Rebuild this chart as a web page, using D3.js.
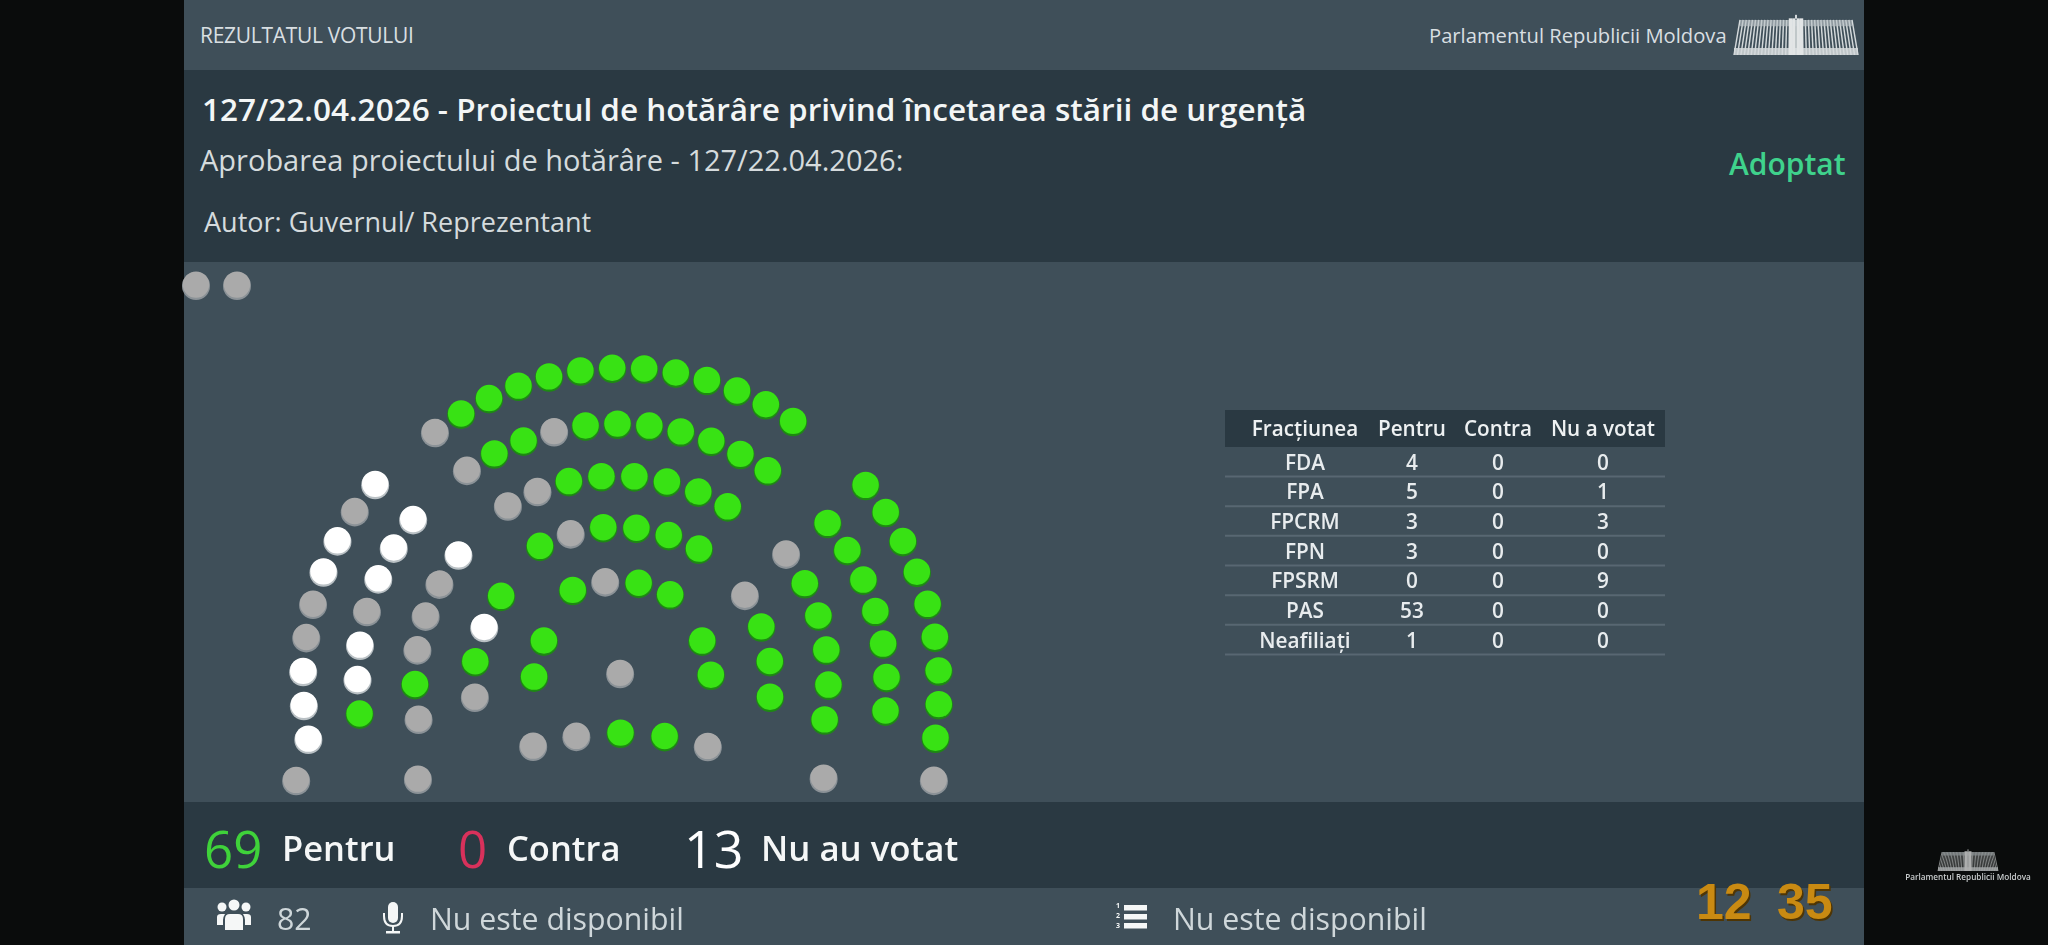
<!DOCTYPE html>
<html lang="ro">
<head>
<meta charset="utf-8">
<title>Rezultatul votului</title>
<script src="https://cdn.jsdelivr.net/npm/d3@7"></script>
<style>
html,body{margin:0;padding:0;background:#0a0c0c;overflow:hidden}
svg{display:block;filter:blur(.45px)}
text{font-family:"Open Sans",sans-serif}
</style>
</head>
<body>
<div id="chart"></div>
<script>
// ---------- DATA ----------
const factions   = ["FDA","FPA","FPCRM","FPN","FPSRM","PAS","Neafiliaţi"];
const votesFor   = [4,5,3,3,0,53,1];
const votesAgainst = [0,0,0,0,0,0,0];
const votesNone  = [0,1,3,0,9,0,0];
const tableHeads = ["Fracţiunea","Pentru","Contra","Nu a votat"];

// Seat status, row by row, clockwise. P = pentru, N = nu a votat, A = loc neocupat
const left1   = ["N","N","N","A","A","N","N","A","N"];
const left2   = ["P","N","N","A","N","N","N"];
const left3   = ["A","P","A","A","A","N"];
const left4   = ["A","P","N","P"];
const left5   = ["P","P"];
const centre1 = ["A","P","P","P","P","P","P","P","P","P","P","P","P"];
const centre2 = ["A","P","P","A","P","P","P","P","P","P","P"];
const centre3 = ["A","A","P","P","P","P","P","P"];
const centre4 = ["P","A","P","P","P","P"];
const centre5 = ["P","A","P","P"];
const centre6 = ["A","A","P","P","A"];
const right1  = ["P","P","P","P","P","P","P","P","P"];
const right2  = ["P","P","P","P","P","P","P"];
const right3  = ["A","P","P","P","P","P"];
const right4  = ["A","P","P","P"];
const right5  = ["P","P"];
const presiding = ["A"];
const footLeftOuter = ["A"], footLeftInner = ["A"], footRightInner = ["A"], footRightOuter = ["A"];
const reserve = ["A","A"];

// ---------- LAYOUT ----------
const W = 2048, H = 945;
const panel = {x:184, w:1680};
const colours = {light:"#3f4f59", dark:"#2a3942"};
const hubCentre = [617,691], hubTop = [621.5,671], hubLeft = [620,681], hubLeftOuter = [610,682],
      hubRight = [620,680], hubRightOuter = [618.6,689.6], hubRightSecond = [631.7,686.5],
      hubFeet = [620,680], hubFront = [620,1030];
// hub, radius, first angle, last angle (degrees from 12 o'clock, clockwise)
const seatRows = [
  [left1,hubLeftOuter,307,-100.7,-49.9],[left2,hubLeft,262.5,-97.2,-52],[left3,hubLeft,205,-100.7,-52],
  [left4,hubLeft,146,-96.3,-54.5],[left5,hubLeft,86,-87.3,-62.2],
  [centre1,hubTop,303,-38,34.5],[centre2,hubCentre,267,-34.2,34.4],[centre3,hubCentre,215,-30.5,31],
  [centre4,hubCentre,164,-28,30],[centre5,hubCentre,110,-23.7,28.9],[centre6,hubFront,297,-17,17.2],
  [presiding,hubCentre,18,10,10],
  [right1,hubRightOuter,320.6,50.4,98.7],[right2,hubRightSecond,255,50.2,95.5],[right3,hubRight,208.5,52.8,101],
  [right4,hubRight,151,55.8,96.5],[right5,hubRight,91,64.6,86.9],
  [footLeftOuter,hubFeet,339,-107.2,-107.2],[footLeftInner,hubFeet,225,-116.1,-116.1],
  [footRightInner,hubFeet,226,115.7,115.7],[footRightOuter,hubFeet,329.5,107.7,107.7]
];

const svg = d3.select("#chart").append("svg").attr("width",W).attr("height",H).attr("viewBox",[0,0,W,H]);

// ---------- PANEL BANDS ----------
const bands = [[0,70,"light"],[70,192,"dark"],[262,540,"light"],[802,86,"dark"],[888,57,"light"]];
svg.selectAll("rect.band").data(bands).join("rect").attr("class","band")
  .attr("x",panel.x).attr("width",panel.w).attr("y",d=>d[0]).attr("height",d=>d[1])
  .attr("fill",d=>colours[d[2]]);

const txt = (s,x,y,size,fill,weight=400,anchor="start",extra={})=>{
  const t = svg.append("text").text(s).attr("x",x).attr("y",y).attr("font-size",size)
    .attr("fill",fill).attr("font-weight",weight).attr("text-anchor",anchor);
  Object.entries(extra).forEach(([k,v])=>t.attr(k,v));
  return t;
};

// ---------- HEADER ----------
txt("REZULTATUL VOTULUI",200,43,21,"#d9dfe2",400,"start",{"letter-spacing":"-0.3"});
txt("Parlamentul Republicii Moldova",1429,43,20.2,"#d9dfe2",400);
txt("127/22.04.2026 - Proiectul de hotărâre privind încetarea stării de urgență",202,121,31.5,"#f3f6f6",600);
txt("Aprobarea proiectului de hotărâre - 127/22.04.2026:",200,171,29,"#d5dbdd",400);
txt("Autor: Guvernul/ Reprezentant",204,232,27,"#d5dbdd",400);
txt("Adoptat",1729,175,30,"#3fd28c",600);

// Parliament building emblem (decoration)
function emblem(cx,y,topHalf,botHalf,h,op){
  const g = svg.append("g").attr("opacity",op);
  const sTop = d3.scaleLinear().domain([-1,1]).range([cx-topHalf,cx+topHalf]);
  const sBot = d3.scaleLinear().domain([-1,1]).range([cx-botHalf,cx+botHalf]);
  d3.range(-1,1.0001,2/36).forEach(t=>{
    g.append("line").attr("x1",sTop(t)).attr("x2",sBot(t)).attr("y1",y+h*.1).attr("y2",y+h)
      .attr("stroke","#e6eaeb").attr("stroke-width",h/27);
  });
  g.append("path").attr("d",`M${cx-topHalf} ${y+h*.1}L${cx+topHalf} ${y+h*.1}L${cx+topHalf} ${y+h*.26}L${cx-topHalf} ${y+h*.26}Z`)
    .attr("fill","#c8cfd2").attr("opacity",.65);
  g.append("rect").attr("x",cx-botHalf).attr("width",2*botHalf).attr("y",y+h*.82).attr("height",h*.18)
    .attr("fill","#e6eaeb").attr("opacity",.85);
  [-.1,-.04,.04,.1].forEach(t=>g.append("rect").attr("x",sTop(t)-h/24).attr("width",h/12)
    .attr("y",y+h*.06).attr("height",h*.94).attr("fill","#f4f6f6"));
  g.append("rect").attr("x",cx-h/40).attr("width",h/20).attr("y",y-h*.03).attr("height",h*.1).attr("fill","#e6eaeb");
}
emblem(1796,16,56,62,39,.9);
emblem(1968,850,26,30,21,.7);
txt("Parlamentul Republicii Moldova",1968,880,8.2,"#c9cdce",600,"middle");

// ---------- HEMICYCLE ----------
const colour = d3.scaleOrdinal(["P","N","A"],["#38e214","#ffffff","#aaaaaa"]);
const edge   = d3.scaleOrdinal(["P","N","A"],["#1d8a12","#b9c0c4","#8b9297"]);
const seatR  = 14;
const seats = [];
seatRows.forEach(([votes,hub,radius,a0,a1])=>{
  const angle = d3.scaleLinear().domain([0,Math.max(1,votes.length-1)]).range([a0,a1]);
  votes.forEach((v,i)=>{
    const [x,y] = d3.pointRadial(angle(i)*Math.PI/180,radius);
    seats.push({v,x:hub[0]+x,y:hub[1]+y});
  });
});
const reserveX = d3.scalePoint().domain(d3.range(reserve.length)).range([196,237]);
reserve.forEach((v,i)=>seats.push({v,x:reserveX(i),y:285}));

svg.append("g").selectAll("circle").data(seats).join("circle")
  .attr("cx",d=>d.x).attr("cy",d=>d.y+1).attr("r",seatR).attr("fill",d=>edge(d.v));
svg.append("g").selectAll("circle").data(seats).join("circle")
  .attr("cx",d=>d.x).attr("cy",d=>d.y-.4).attr("r",seatR-.8).attr("fill",d=>colour(d.v));

// ---------- TABLE ----------
const table = {x:1225,w:440,headY:410,headH:37};
const colX = d3.scaleOrdinal(tableHeads,[1305,1412,1498,1603]);
const rowY = d3.scalePoint().domain(factions).range([461,639]);
svg.append("rect").attr("x",table.x).attr("y",table.headY).attr("width",table.w).attr("height",table.headH).attr("fill",colours.dark);
tableHeads.forEach(h=>txt(h,colX(h),436,20.7,"#eef1f2",600,"middle"));
factions.forEach((f,i)=>{
  const y = rowY(f);
  svg.append("line").attr("x1",table.x).attr("x2",table.x+table.w).attr("y1",y+15.5).attr("y2",y+15.5)
    .attr("stroke","#586772").attr("stroke-width",2);
  [f,votesFor[i],votesAgainst[i],votesNone[i]].forEach((v,j)=>
    txt(v,colX(tableHeads[j]),y+8.5,20.8,"#e8ecee",600,"middle"));
});

// ---------- TOTALS ----------
const sumFor = d3.sum(votesFor), sumAgainst = d3.sum(votesAgainst), sumNone = d3.sum(votesNone);
txt(sumFor,204,868,51,"#3fd23a",500);
txt("Pentru",282,861,34.5,"#f5f7f7",600);
txt(sumAgainst,458,868,51,"#d8315b",500);
txt("Contra",507,861,34.5,"#f5f7f7",600);
txt(sumNone,684,868,52,"#ffffff",500);
txt("Nu au votat",761,861,34.8,"#f5f7f7",600);

// ---------- FOOTER ----------
txt(sumFor+sumAgainst+sumNone,277,930,30.3,"#cfd7da",400);
txt("Nu este disponibil",430,930,30.3,"#cfd7da",400);
txt("Nu este disponibil",1173,930,30.3,"#cfd7da",400);

// icons
const ic = svg.append("g").attr("fill","#f5f7f7");
[[222,907,4.5],[246,907,4.5],[234,905,5.5]].forEach(c=>ic.append("circle").attr("cx",c[0]).attr("cy",c[1]).attr("r",c[2]));
ic.append("path").attr("d","M217 925v-8q0-3 4-3h4q-2 3-2 6v5zM251 925v-8q0-3-4-3h-4q2 3 2 6v5zM225 930v-11q0-5 5-5h8q5 0 5 5v11z");
ic.append("rect").attr("x",388).attr("y",902).attr("width",10).attr("height",21).attr("rx",5);
ic.append("path").attr("d","M384 913v3q0 10 9 10t9-10v-3").attr("fill","none").attr("stroke","#f5f7f7").attr("stroke-width",2);
ic.append("rect").attr("x",386).attr("y",931).attr("width",14).attr("height",2.5);
ic.append("rect").attr("x",392).attr("y",926).attr("width",2).attr("height",6);
[905,914,923].forEach(y=>ic.append("rect").attr("x",1124).attr("y",y).attr("width",23).attr("height",5.5));
[908,918,928].forEach((y,i)=>txt(i+1,1116,y,7,"#f5f7f7",700));

// clock
const clock = (s,x)=>{
  txt(s,x+1.5,921,50,"#4e3505",700,"start",{style:'font-family:"Liberation Sans",sans-serif'});
  txt(s,x,919,50,"#c98a12",700,"start",{style:'font-family:"Liberation Sans",sans-serif'});
};
clock("12",1696);
clock("35",1777);
</script>
</body>
</html>
